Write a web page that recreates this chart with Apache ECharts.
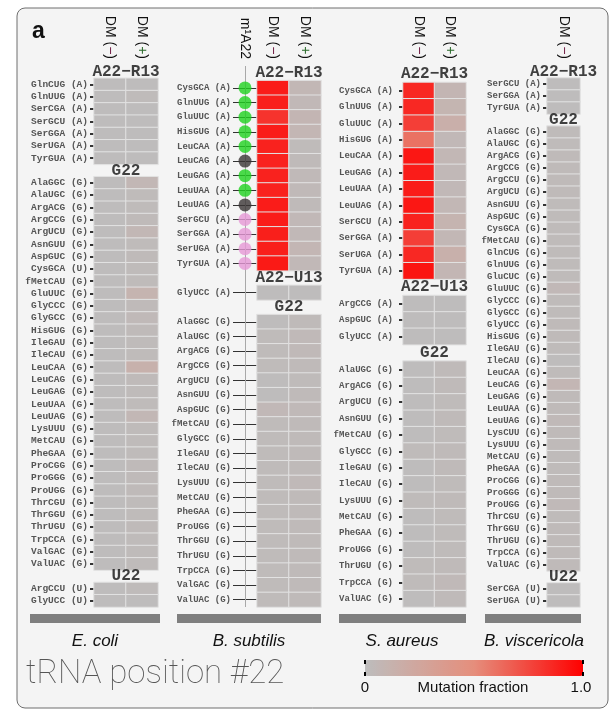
<!DOCTYPE html>
<html><head><meta charset="utf-8">
<script src="https://cdn.jsdelivr.net/npm/echarts@6/dist/echarts.min.js"></script>
<style>html,body{margin:0;padding:0;background:#fff}#c{width:615px;height:716px}</style>
</head><body><div id="c"></div>
<script>
// ---------- data ----------
const colLabels = ['DM (−)', 'DM (+)'];
const m1aLabel = 'm¹A22';
const speciesNames = ['E. coli', 'B. subtilis', 'S. aureus', 'B. viscericola'];
const colorbarTicks = ['0', '1.0'];
const colorbarTitle = 'Mutation fraction';
const figTitle = 'tRNA position #22';

// E. coli
const ecoliGroups = ['A22−R13', 'G22', 'U22'];
const ecoliRowsA = ['GlnCUG (A)','GlnUUG (A)','SerCGA (A)','SerGCU (A)','SerGGA (A)','SerUGA (A)','TyrGUA (A)'];
const ecoliMinusA = [0.01,0.01,0.01,0.01,0.01,0.01,0.01];
const ecoliPlusA  = [0.01,0.02,0.01,0.01,0.01,0.01,0.01];
const ecoliRowsG = ['AlaGGC (G)','AlaUGC (G)','ArgACG (G)','ArgCCG (G)','ArgUCU (G)','AsnGUU (G)','AspGUC (G)','CysGCA (U)','fMetCAU (G)','GluUUC (G)','GlyCCC (G)','GlyGCC (G)','HisGUG (G)','IleGAU (G)','IleCAU (G)','LeuCAA (G)','LeuCAG (G)','LeuGAG (G)','LeuUAA (G)','LeuUAG (G)','LysUUU (G)','MetCAU (G)','PheGAA (G)','ProCGG (G)','ProGGG (G)','ProUGG (G)','ThrCGU (G)','ThrGGU (G)','ThrUGU (G)','TrpCCA (G)','ValGAC (G)','ValUAC (G)'];
const ecoliMinusG = [0.01,0.01,0.01,0.01,0.01,0.01,0.01,0.01,0.01,0.01,0.01,0.01,0.01,0.01,0.01,0.01,0.01,0.01,0.01,0.01,0.01,0.01,0.01,0.01,0.01,0.01,0.01,0.01,0.01,0.01,0.01,0.01];
const ecoliPlusG  = [0.06,0.02,0.02,0.03,0.06,0.02,0.03,0.02,0.02,0.10,0.03,0.04,0.03,0.02,0.02,0.13,0.03,0.02,0.02,0.06,0.02,0.02,0.02,0.03,0.03,0.03,0.02,0.02,0.03,0.02,0.02,0.02];
const ecoliRowsU = ['ArgCCU (U)','GlyUCC (U)'];
const ecoliMinusU = [0.01,0.01];
const ecoliPlusU  = [0.02,0.01];

// B. subtilis
const bsubGroups = ['A22−R13', 'A22−U13', 'G22'];
const bsubRowsA = ['CysGCA (A)','GlnUUG (A)','GluUUC (A)','HisGUG (A)','LeuCAA (A)','LeuCAG (A)','LeuGAG (A)','LeuUAA (A)','LeuUAG (A)','SerGCU (A)','SerGGA (A)','SerUGA (A)','TyrGUA (A)'];
const bsubMinusA = [0.90,0.89,0.82,0.90,0.88,0.88,0.88,0.88,0.90,0.90,0.89,0.89,0.91];
const bsubPlusA  = [0.06,0.05,0.08,0.07,0.02,0.03,0.04,0.04,0.03,0.05,0.05,0.07,0.05];
const bsubM1A    = ['g','g','g','g','g','k','g','g','k','p','p','p','p'];
const bsubRowsU = ['GlyUCC (A)'];
const bsubMinusU = [0.01];
const bsubPlusU  = [0.01];
const bsubRowsG = ['AlaGGC (G)','AlaUGC (G)','ArgACG (G)','ArgCCG (G)','ArgUCU (G)','AsnGUU (G)','AspGUC (G)','fMetCAU (G)','GlyGCC (G)','IleGAU (G)','IleCAU (G)','LysUUU (G)','MetCAU (G)','PheGAA (G)','ProUGG (G)','ThrGGU (G)','ThrUGU (G)','TrpCCA (G)','ValGAC (G)','ValUAC (G)'];
const bsubMinusG = [0.01,0.02,0.02,0.02,0.01,0.01,0.05,0.02,0.02,0.02,0.02,0.02,0.02,0.02,0.02,0.02,0.02,0.02,0.02,0.02];
const bsubPlusG  = [0.03,0.04,0.04,0.03,0.02,0.03,0.04,0.03,0.03,0.03,0.03,0.04,0.03,0.03,0.03,0.03,0.03,0.03,0.03,0.03];

// S. aureus
const saurGroups = ['A22−R13', 'A22−U13', 'G22'];
const saurRowsA = ['CysGCA (A)','GlnUUG (A)','GluUUC (A)','HisGUG (A)','LeuCAA (A)','LeuGAG (A)','LeuUAA (A)','LeuUAG (A)','SerGCU (A)','SerGGA (A)','SerUGA (A)','TyrGUA (A)'];
const saurMinusA = [0.86,0.86,0.78,0.60,0.92,0.90,0.90,0.92,0.88,0.78,0.86,0.93];
const saurPlusA  = [0.08,0.09,0.15,0.05,0.06,0.05,0.05,0.06,0.10,0.06,0.14,0.07];
const saurRowsU = ['ArgCCG (A)','AspGUC (A)','GlyUCC (A)'];
const saurMinusU = [0.01,0.01,0.01];
const saurPlusU  = [0.01,0.01,0.01];
const saurRowsG = ['AlaUGC (G)','ArgACG (G)','ArgUCU (G)','AsnGUU (G)','fMetCAU (G)','GlyGCC (G)','IleGAU (G)','IleCAU (G)','LysUUU (G)','MetCAU (G)','PheGAA (G)','ProUGG (G)','ThrUGU (G)','TrpCCA (G)','ValUAC (G)'];
const saurMinusG = [0.01,0.01,0.01,0.01,0.01,0.02,0.01,0.01,0.02,0.01,0.01,0.01,0.02,0.02,0.01];
const saurPlusG  = [0.03,0.03,0.02,0.03,0.02,0.03,0.03,0.02,0.03,0.02,0.02,0.02,0.03,0.04,0.03];

// B. viscericola (DM(-) only)
const bvisGroups = ['A22−R13', 'G22', 'U22'];
const bvisRowsA = ['SerGCU (A)','SerGGA (A)','TyrGUA (A)'];
const bvisMinusA = [0.01,0.01,0.01];
const bvisRowsG = ['AlaGGC (G)','AlaUGC (G)','ArgACG (G)','ArgCCG (G)','ArgCCU (G)','ArgUCU (G)','AsnGUU (G)','AspGUC (G)','CysGCA (G)','fMetCAU (G)','GlnCUG (G)','GlnUUG (G)','GluCUC (G)','GluUUC (G)','GlyCCC (G)','GlyGCC (G)','GlyUCC (G)','HisGUG (G)','IleGAU (G)','IleCAU (G)','LeuCAA (G)','LeuCAG (G)','LeuGAG (G)','LeuUAA (G)','LeuUAG (G)','LysCUU (G)','LysUUU (G)','MetCAU (G)','PheGAA (G)','ProCGG (G)','ProGGG (G)','ProUGG (G)','ThrCGU (G)','ThrGGU (G)','ThrUGU (G)','TrpCCA (G)','ValUAC (G)'];
const bvisMinusG = [0.02,0.02,0.03,0.03,0.03,0.03,0.02,0.02,0.02,0.02,0.02,0.02,0.02,0.05,0.02,0.02,0.03,0.03,0.02,0.01,0.02,0.07,0.03,0.03,0.04,0.03,0.03,0.02,0.02,0.03,0.03,0.04,0.02,0.03,0.03,0.03,0.03];
const bvisRowsU = ['SerCGA (U)','SerUGA (U)'];
const bvisMinusU = [0.01,0.01];

// ---------- layout / style ----------
const m1aColors = { g: '#1fd21f', k: '#3b3636', p: '#e697d6' };
const GRID_TOP = 66, GRID_H = 541;
const panels = [
  { groups: ecoliGroups, rows: [ecoliRowsA, ecoliRowsG, ecoliRowsU],
    cols: [[ecoliMinusA, ecoliMinusG, ecoliMinusU], [ecoliPlusA, ecoliPlusG, ecoliPlusU]],
    left: 94, width: 64, font: 9.5, margin: 6, tick: 4, tickW: 2 },
  { groups: bsubGroups, rows: [bsubRowsA, bsubRowsU, bsubRowsG],
    cols: [[bsubMinusA, bsubMinusU, bsubMinusG], [bsubPlusA, bsubPlusU, bsubPlusG]],
    left: 257, width: 64, font: 9, margin: 26, tick: 24, tickW: 1, m1a: bsubM1A },
  { groups: saurGroups, rows: [saurRowsA, saurRowsU, saurRowsG],
    cols: [[saurMinusA, saurMinusU, saurMinusG], [saurPlusA, saurPlusU, saurPlusG]],
    left: 403, width: 63, font: 9, margin: 10, tick: 4, tickW: 2 },
  { groups: bvisGroups, rows: [bvisRowsA, bvisRowsG, bvisRowsU],
    cols: [[bvisMinusA, bvisMinusG, bvisMinusU]],
    left: 547, width: 33, font: 9, margin: 6, tick: 4, tickW: 2 }
];

function build(p) {
  const cats = [], data = [], spacers = [];
  p.groups.forEach((g, gi) => {
    spacers.push({ value: [p.cols.length / 2, cats.length], name: g });
    cats.push('__' + g);
    p.rows[gi].forEach((r, ri) => {
      const y = cats.length;
      cats.push(r);
      p.cols.forEach((col, ci) => data.push([ci, y, col[gi][ri]]));
    });
  });
  return { cats, data, spacers };
}

const grid = [], xAxis = [], yAxis = [], series = [], heatIdx = [];
const HF = 14;
const headerRich = {
  t: { color: '#111', fontSize: HF, fontFamily: 'Liberation Sans' },
  m: { color: '#6e1840', fontSize: HF, fontFamily: 'Liberation Sans' },
  p: { color: '#2a6a2a', fontSize: HF, fontFamily: 'Liberation Sans' }
};
function headerFmt(v) {
  if (v === colLabels[0]) return '{t|DM (}{m|−}{t|)}';
  if (v === colLabels[1]) return '{t|DM (}{p|+}{t|)}';
  return '{t|' + v + '}';
}
const headerLabel = { rotate: 90, margin: 7, fontSize: HF, fontFamily: 'Liberation Sans', color: '#111', formatter: headerFmt, rich: headerRich };

panels.forEach((p, pi) => {
  const b = build(p);
  const gi = grid.length;
  grid.push({ left: p.left, width: p.width, top: GRID_TOP, height: GRID_H });
  const xCat = xAxis.length;
  xAxis.push({ type: 'category', gridIndex: gi, position: 'top', data: colLabels.slice(0, p.cols.length),
    axisLine: { show: false }, axisTick: { show: false }, axisLabel: headerLabel, splitLine: { show: false } });
  const xVal = xAxis.length;
  xAxis.push({ type: 'value', gridIndex: gi, min: 0, max: p.cols.length, show: false });
  const yi = yAxis.length;
  const isSpacer = (v) => String(v).startsWith('__');
  yAxis.push({ type: 'category', gridIndex: gi, inverse: true, data: b.cats, z: 0,
    axisLine: { show: false },
    axisTick: { show: true, alignWithLabel: true, length: p.tick, interval: (i, v) => !isSpacer(v),
      lineStyle: { color: '#333', width: p.tickW } },
    axisLabel: { interval: 0, margin: p.margin, fontFamily: 'Liberation Mono', fontWeight: 'bold',
      fontSize: p.font, color: '#555', formatter: v => isSpacer(v) ? '' : v },
    splitLine: { show: false } });
  heatIdx.push(series.length);
  series.push({ type: 'heatmap', xAxisIndex: xCat, yAxisIndex: yi, data: b.data,
    itemStyle: { borderColor: '#e2e2e2', borderWidth: 1 }, emphasis: { disabled: true }, silent: true });
  series.push({ type: 'scatter', xAxisIndex: xVal, yAxisIndex: yi, data: b.spacers, symbolSize: 0, silent: true,
    label: { show: true, position: 'inside', formatter: '{b}', fontFamily: 'Liberation Mono', fontWeight: 'bold',
      fontSize: 16, color: '#111' } });

  if (p.m1a) {
    const cg = grid.length;
    grid.push({ left: p.left - 18, width: 12, top: GRID_TOP, height: GRID_H });
    const cx = xAxis.length;
    xAxis.push({ type: 'category', gridIndex: cg, position: 'top', data: [m1aLabel],
      axisLine: { show: false }, axisTick: { show: false }, axisLabel: headerLabel });
    const cy = yAxis.length;
    yAxis.push({ type: 'category', gridIndex: cg, inverse: true, data: b.cats, show: false });
    series.push({ type: 'scatter', xAxisIndex: cx, yAxisIndex: cy, data: [], z: 1, silent: true,
      markLine: { silent: true, z: 1, symbol: 'none', label: { show: false },
        lineStyle: { color: '#a8a8a8', width: 1, type: 'solid' }, data: [{ xAxis: 0 }] } });
    const circ = [];
    p.m1a.forEach((s, ri) => {
      circ.push({ value: [0, b.cats.indexOf(p.rows[0][ri])], itemStyle: { color: m1aColors[s] } });
    });
    series.push({ type: 'scatter', xAxisIndex: cx, yAxisIndex: cy, data: circ, symbolSize: 13, z: 20, zlevel: 1, silent: true });
  }
});

const gray = '#7f7f7f';
const speciesX = [95, 249, 402, 534];
const barSpans = [[30, 160], [177, 321], [339, 466], [485, 581]];
const graphic = [
  { type: 'rect', z: -10, shape: { x: 17, y: 8, width: 591, height: 700, r: 8 },
    style: { fill: '#f4f4f4', stroke: '#6f6f6f', lineWidth: 1 } },
  { type: 'text', left: 32, top: 20, style: { text: 'a', font: 'bold 23px "Liberation Sans"', fill: '#111' } },
  { type: 'text', left: 26, top: 658, style: { text: figTitle, font: '100 33px Roboto', fill: '#555' } },
  { type: 'text', x: 473, y: 688, style: { text: colorbarTitle, font: '15px "Liberation Sans"', fill: '#111', align: 'center', verticalAlign: 'middle' } },
  { type: 'text', x: 365, y: 688, style: { text: colorbarTicks[0], font: '15px "Liberation Sans"', fill: '#111', align: 'center', verticalAlign: 'middle' } },
  { type: 'text', x: 581, y: 688, style: { text: colorbarTicks[1], font: '15px "Liberation Sans"', fill: '#111', align: 'center', verticalAlign: 'middle' } }
];
[365, 583].forEach(x => {
  graphic.push({ type: 'line', z: 100, shape: { x1: x, y1: 660, x2: x, y2: 664 }, style: { stroke: '#000', lineWidth: 2 } });
  graphic.push({ type: 'line', z: 100, shape: { x1: x, y1: 672, x2: x, y2: 676 }, style: { stroke: '#000', lineWidth: 2 } });
});
speciesNames.forEach((s, i) => {
  graphic.push({ type: 'rect', shape: { x: barSpans[i][0], y: 614, width: barSpans[i][1] - barSpans[i][0], height: 9 }, style: { fill: gray } });
  graphic.push({ type: 'text', x: speciesX[i], y: 641, style: { text: s, font: 'italic 17px "Liberation Sans"', fill: '#111', align: 'center', verticalAlign: 'middle' } });
});

const chart = echarts.init(document.getElementById('c'));
chart.setOption({
  backgroundColor: '#ffffff',
  animation: false,
  grid, xAxis, yAxis, series, graphic,
  visualMap: {
    type: 'continuous', min: 0, max: 1, seriesIndex: heatIdx, orient: 'horizontal',
    left: 365, top: 660, itemWidth: 16, itemHeight: 218, padding: 0, calculable: false,
    text: null, showLabel: false, hoverLink: false,
    inRange: { color: ['#bdbdbd', '#e58e7c', '#ff0000'] }
  }
});
</script></body></html>
